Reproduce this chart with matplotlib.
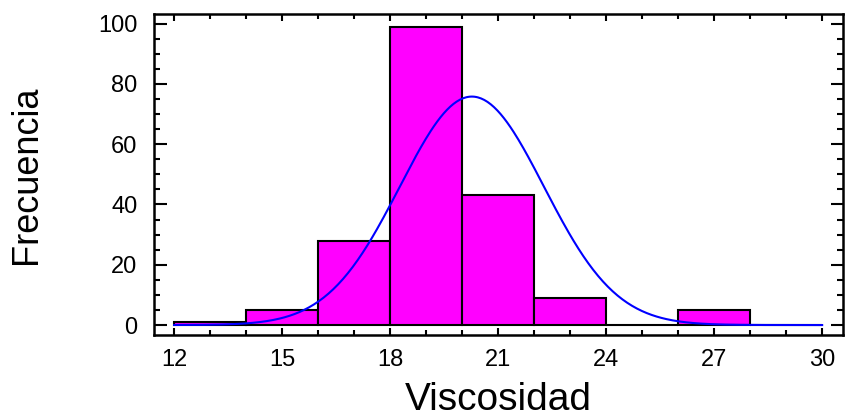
import numpy as np
import matplotlib
matplotlib.use("Agg")
import matplotlib.pyplot as plt
from matplotlib.ticker import MultipleLocator

plt.rcParams['font.family'] = ['Liberation Sans', 'DejaVu Sans']

# histogram of viscosity readings, bins 2 units wide
bin_edges = [12, 14, 16, 18, 20, 22, 24, 26, 28, 30]
counts = [1, 5, 28, 99, 43, 9, 0, 5, 0]

# fitted normal curve parameters
fit_mean = 20.27
fit_sd = 2.0

n_obs = sum(counts)
width = bin_edges[1] - bin_edges[0]

fig = plt.figure(figsize=(8.46, 4.19), dpi=100)
ax = fig.add_axes([0.182, 0.2005, 0.8145, 0.7661])

ax.bar(bin_edges[:-1], counts, width=width, align='edge',
       color='#ff00ff', edgecolor='black', linewidth=1.5, zorder=2)

xs = np.linspace(bin_edges[0], bin_edges[-1], 400)
ys = n_obs * width * np.exp(-0.5 * ((xs - fit_mean) / fit_sd) ** 2) / (fit_sd * np.sqrt(2 * np.pi))
ax.plot(xs, ys, color='#0000ff', linewidth=1.5, zorder=3)

ax.set_xlim(11.44, 30.58)
ax.set_ylim(-3.3, 103.2)
ax.xaxis.set_major_locator(MultipleLocator(3))
ax.xaxis.set_minor_locator(MultipleLocator(1))
ax.yaxis.set_major_locator(MultipleLocator(20))
ax.yaxis.set_minor_locator(MultipleLocator(5))

ax.tick_params(which='both', direction='in', top=True, right=True,
               width=1.5, color='black', labelsize=17)
ax.tick_params(axis='x', which='major', length=5, pad=10)
ax.tick_params(axis='x', which='minor', length=3.5)
ax.tick_params(axis='y', which='major', length=9, pad=12)
ax.tick_params(axis='y', which='minor', length=4)
for sp in ax.spines.values():
    sp.set_linewidth(1.8)

ax.set_xlabel('Viscosidad', fontsize=28)
ax.set_ylabel('Frecuencia', fontsize=26)
ax.xaxis.set_label_coords(0.5, -0.145)
ax.yaxis.set_label_coords(-0.16, 0.5)

fig.savefig('out.png', dpi=100)
